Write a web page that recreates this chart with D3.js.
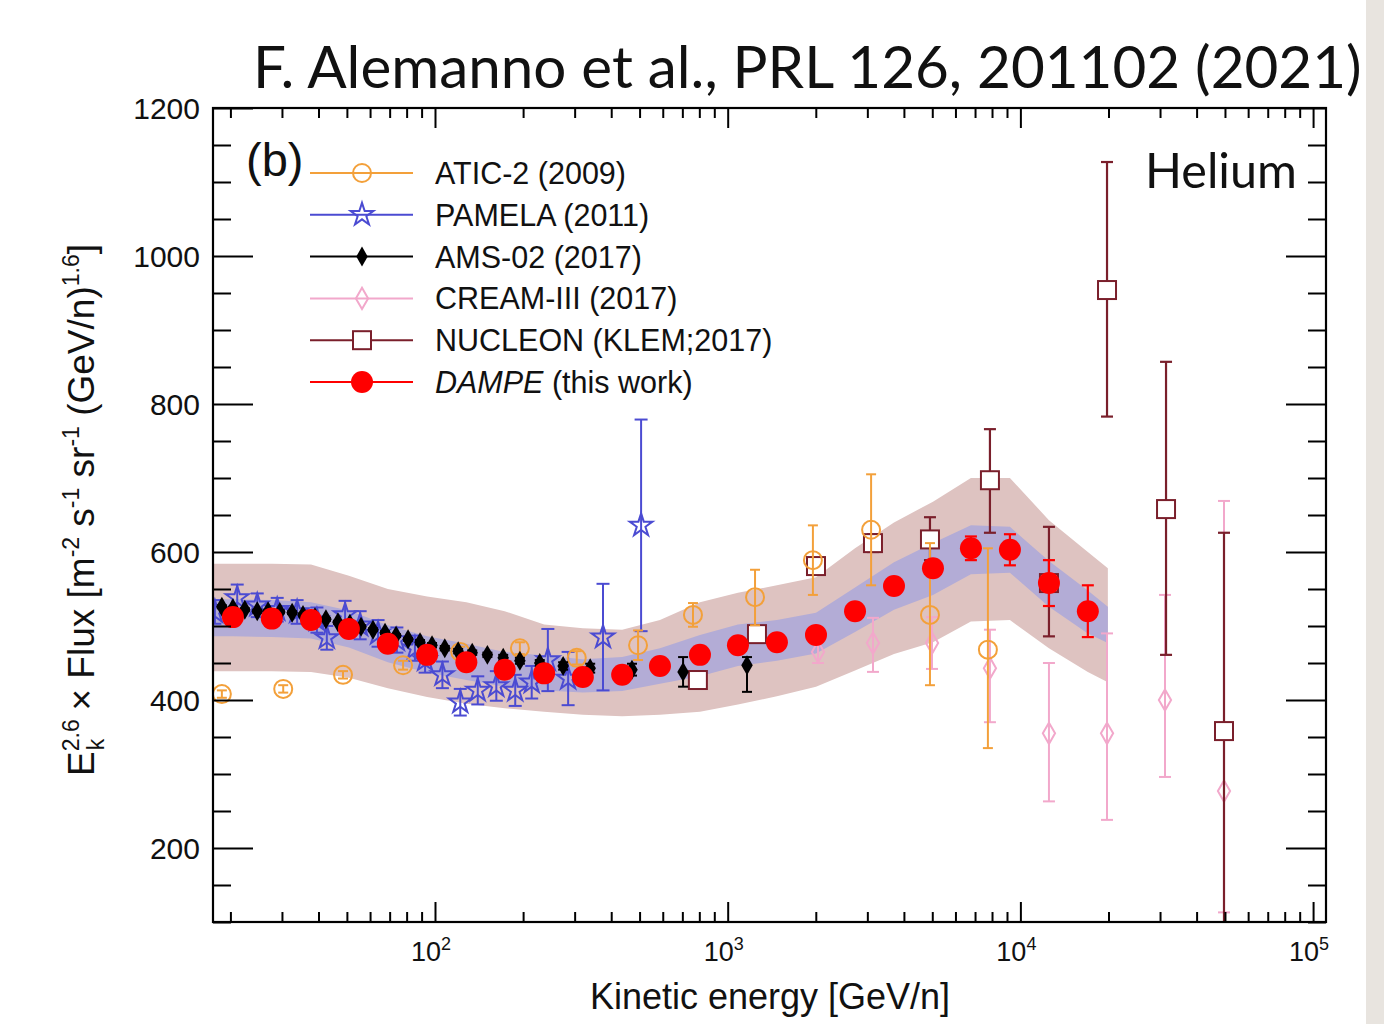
<!DOCTYPE html>
<html><head><meta charset="utf-8">
<script src="https://cdn.jsdelivr.net/npm/d3@7"></script>
<style>body{margin:0;background:#fff;} svg{display:block}</style>
</head><body>
<svg id="c" width="1384" height="1024"></svg>
<script>
// ---------------- DATA ----------------
const yTickLabels = [200, 400, 600, 800, 1000, 1200];
const xTickExps = [2, 3, 4, 5];

// DAMPE (this work)
const dampeE  = [20.4, 27.7, 37.7, 50.8, 69, 94, 128, 173, 236, 320, 436, 587, 804, 1084, 1473, 2003, 2723, 3700, 5027, 6776, 9210, 12520, 17000];
const dampeV  = [512, 510, 508, 496, 476, 461, 451, 441, 436, 431, 434, 446, 461, 474, 478, 488, 520, 554, 578, 605, 603, 558, 520];
const dampeErr= [3, 3, 3, 3, 3, 3, 3, 3, 3, 3, 3, 4, 4, 5, 5, 6, 7, 8, 10, 16, 21, 31, 35];

// DAMPE systematic bands
const bandE    = [17.44, 20.4, 27.7, 37.7, 50.8, 69, 94, 128, 173, 236, 320, 436, 587, 804, 1084, 1473, 2003, 2723, 3700, 5027, 6776, 9210, 12520, 17000, 19900];
const outerLo  = [439, 439, 439, 438, 430, 416, 404, 395, 389, 384, 380, 378, 380, 384, 394, 405, 418, 440, 462, 478, 506, 508, 470, 438, 424];
const outerHi  = [584, 584, 584, 583, 568, 550, 540, 532, 520, 502, 497, 495, 508, 532, 545, 555, 566, 605, 640, 668, 700, 700, 643, 600, 578];
const innerLo  = [486, 486, 485, 483, 471, 451, 437, 427, 418, 413, 410, 412, 422, 432, 446, 453, 463, 492, 522, 542, 570, 572, 526, 490, 477];
const innerHi  = [536, 536, 535, 532, 521, 501, 486, 476, 465, 460, 455, 458, 470, 488, 502, 508, 518, 552, 586, 612, 636, 634, 588, 548, 526];

// ATIC-2 (2009)
const aticE  = [18.7, 30.3, 48.5, 77.8, 122, 195, 305, 494, 761, 1240, 1955, 3090, 4910, 7745];
const aticV  = [408, 415, 434, 447, 465, 470, 457, 474, 515, 539, 589, 630, 515, 468];
const aticUp = [5, 5, 5, 6, 7, 8, 9, 20, 16, 37, 47, 75, 97, 137];
const aticDn = [5, 5, 5, 6, 7, 8, 9, 20, 16, 38, 47, 75, 95, 133];

// PAMELA (2011)
const pamE   = [17.7, 21.1, 24.7, 28.9, 33.8, 39.5, 42.7, 49.3, 55.5, 63.9, 74.1, 85.4, 92.5, 106, 122, 140, 162, 188, 214, 243, 285, 375, 506];
const pamV   = [519, 538, 528, 522, 519, 508, 484, 515, 501, 490, 481, 470, 454, 434, 397, 413, 419, 413, 424, 454, 429, 485, 636];
const pamErr = [16, 18, 16, 16, 16, 17, 16, 19, 19, 18, 17, 17, 17, 18, 18, 19, 20, 21, 22, 42, 36, 72, 143];

// AMS-02 (2017)
const amsE  = [18.7, 20.4, 22.4, 24.7, 26.9, 29.5, 32.5, 35.4, 38.9, 42.4, 46.6, 51.2, 55.9, 61.4, 67.5, 73.6, 80.9, 88.9, 97.7, 108, 120, 134, 151, 171, 195, 228, 274, 339, 471, 704, 1164];
const amsV  = [526, 524, 522, 520, 520, 519, 518, 515, 512, 509, 505, 503, 499, 495, 491, 487, 482, 478, 474, 470, 466, 464, 461, 457, 453, 450, 446, 443, 441, 438, 447];
const amsUp = [2, 2, 2, 2, 2, 2, 2, 2, 2, 2, 2, 2, 2, 2, 2, 2, 2, 3, 3, 3, 3, 3, 3, 4, 4, 4, 5, 6, 8, 20, 11];
const amsDn = [2, 2, 2, 2, 2, 2, 2, 2, 2, 2, 2, 2, 2, 2, 2, 2, 2, 3, 3, 3, 3, 3, 3, 4, 4, 4, 5, 6, 8, 20, 36];

// CREAM-III (2017)
const creamE  = [2035, 3136, 4990, 7870, 12520, 19770, 31190, 49620];
const creamV  = [465, 477, 477, 443, 355, 355, 400, 277];
const creamUp = [15, 34, 35, 52, 95, 135, 142, 392];
const creamDn = [15, 39, 35, 73, 92, 117, 104, 164];

// NUCLEON (KLEM; 2017)
const nucE  = [791, 1259, 2003, 3136, 4910, 7870, 12520, 19770, 31450, 49620];
const nucV  = [427, 489, 581, 612, 617, 697, 558, 954, 658, 358];
const nucUp = [8, 8, 10, 12, 30, 69, 76, 173, 199, 268];
const nucDn = [8, 8, 10, 12, 28, 71, 72, 171, 197, 300];

const legendNames = ["ATIC-2 (2009)", "PAMELA (2011)", "AMS-02 (2017)", "CREAM-III (2017)", "NUCLEON (KLEM;2017)", "DAMPE"];

// ---------------- STYLE ----------------
const C = {atic:"#f3a03a", pam:"#4b4bd2", ams:"#000000", cream:"#f2a8cb", nuc:"#7a1f2b", dampe:"#ff0000",
           outer:"#dec3c1", inner:"#b3acd6"};
const FONT = "'Liberation Sans', Arial, Helvetica, sans-serif";

const svg = d3.select("#c");
svg.append("rect").attr("width",1384).attr("height",1024).attr("fill","#fff");
svg.append("rect").attr("x",1366).attr("y",0).attr("width",18).attr("height",1024).attr("fill","#e8e4df");

const L=213, R=1326, T=108, B=922;
const x = d3.scaleLog().domain([17.44, 110700]).range([L, R]);
const y = d3.scaleLinear().domain([100, 1200]).range([B, T]);

svg.append("clipPath").attr("id","clip").append("rect").attr("x",L).attr("y",T).attr("width",R-L).attr("height",B-T);
const plot = svg.append("g").attr("clip-path","url(#clip)");

// bands
const bandData = bandE.map((e,i)=>({E:e, olo:outerLo[i], ohi:outerHi[i], ilo:innerLo[i], ihi:innerHi[i]}));
plot.append("path").datum(bandData).attr("fill",C.outer)
  .attr("d", d3.area().x(d=>x(d.E)).y0(d=>y(d.olo)).y1(d=>y(d.ohi)));
plot.append("path").datum(bandData).attr("fill",C.inner)
  .attr("d", d3.area().x(d=>x(d.E)).y0(d=>y(d.ilo)).y1(d=>y(d.ihi)));

// marker helpers
function marker(g, type, cx, cy){
  if(type==="atic") g.append("circle").attr("cx",cx).attr("cy",cy).attr("r",9).attr("fill","none").attr("stroke",C.atic).attr("stroke-width",2);
  else if(type==="pam") g.append("path").attr("d",d3.symbol(d3.symbolStar,160)()).attr("transform",`translate(${cx},${cy})`).attr("fill","none").attr("stroke",C.pam).attr("stroke-width",2);
  else if(type==="ams") g.append("path").attr("d",d3.symbol(d3.symbolDiamond,115)()).attr("transform",`translate(${cx},${cy})`).attr("fill",C.ams);
  else if(type==="cream") g.append("path").attr("d",d3.symbol(d3.symbolDiamond,130)()).attr("transform",`translate(${cx},${cy})`).attr("fill","none").attr("stroke",C.cream).attr("stroke-width",2);
  else if(type==="nuc") g.append("rect").attr("x",cx-9).attr("y",cy-9).attr("width",18).attr("height",18).attr("fill","#fff").attr("stroke",C.nuc).attr("stroke-width",2);
  else if(type==="dampe") g.append("circle").attr("cx",cx).attr("cy",cy).attr("r",11).attr("fill",C.dampe);
}
function errbar(g, color, cx, v, up, dn, cap, sw){
  const y1=y(v+up), y2=y(v-dn);
  g.append("line").attr("x1",cx).attr("x2",cx).attr("y1",y1).attr("y2",y2).attr("stroke",color).attr("stroke-width",sw);
  [y1,y2].forEach(yy=>g.append("line").attr("x1",cx-cap/2).attr("x2",cx+cap/2).attr("y1",yy).attr("y2",yy).attr("stroke",color).attr("stroke-width",sw));
}
function series(type, color, E, V, UP, DN, cap, sw){
  const g = plot.append("g");
  E.forEach((e,i)=>errbar(g,color,x(e),V[i],UP[i],DN[i],cap,sw));
  E.forEach((e,i)=>marker(g,type,x(e),y(V[i])));
}

series("cream", C.cream, creamE, creamV, creamUp, creamDn, 12, 2);
series("nuc", C.nuc, nucE, nucV, nucUp, nucDn, 12, 2.2);
series("pam", C.pam, pamE, pamV, pamErr, pamErr, 13, 2);
series("atic", C.atic, aticE, aticV, aticUp, aticDn, 10, 2);
series("ams", C.ams, amsE, amsV, amsUp, amsDn, 10, 2);
series("dampe", C.dampe, dampeE, dampeV, dampeErr, dampeErr, 12, 2.2);

// ---------------- AXES ----------------
const majorX = xTickExps.map(k=>Math.pow(10,k));
const minorX = [];
for(let d=1; d<=5; d++) for(let k=2;k<=9;k++){ const v=k*Math.pow(10,d); if(v>=x.domain()[0] && v<=x.domain()[1]) minorX.push(v); }
const majorY = d3.range(200, 1201, 200);
const minorY = d3.range(100, 1201, 50).filter(v=>v%200!==0);

function styleAxis(g){ g.select(".domain").remove(); g.selectAll("line").attr("stroke","#000").attr("stroke-width",2); g.selectAll("text").remove(); }
svg.append("g").attr("transform",`translate(0,${B})`).call(d3.axisBottom(x).tickValues(majorX).tickSize(-20)).call(styleAxis);
svg.append("g").attr("transform",`translate(0,${B})`).call(d3.axisBottom(x).tickValues(minorX).tickSize(-10)).call(styleAxis);
svg.append("g").attr("transform",`translate(0,${T})`).call(d3.axisTop(x).tickValues(majorX).tickSize(-20)).call(styleAxis);
svg.append("g").attr("transform",`translate(0,${T})`).call(d3.axisTop(x).tickValues(minorX).tickSize(-10)).call(styleAxis);
svg.append("g").attr("transform",`translate(${L},0)`).call(d3.axisLeft(y).tickValues(majorY).tickSize(-40)).call(styleAxis);
svg.append("g").attr("transform",`translate(${L},0)`).call(d3.axisLeft(y).tickValues(minorY).tickSize(-18)).call(styleAxis);
svg.append("g").attr("transform",`translate(${R},0)`).call(d3.axisRight(y).tickValues(majorY).tickSize(-40)).call(styleAxis);
svg.append("g").attr("transform",`translate(${R},0)`).call(d3.axisRight(y).tickValues(minorY).tickSize(-18)).call(styleAxis);

svg.append("rect").attr("x",L).attr("y",T).attr("width",R-L).attr("height",B-T).attr("fill","none").attr("stroke","#000").attr("stroke-width",2.2);

// y tick labels
svg.append("g").selectAll("text").data(yTickLabels).join("text")
  .attr("x",200).attr("y",d=>y(d)+11).attr("text-anchor","end")
  .attr("font-family",FONT).attr("font-size",30).attr("fill","#111").text(d=>d);

// x tick labels
xTickExps.forEach(k=>{
  const t = svg.append("text").attr("x",x(Math.pow(10,k))-4).attr("y",961).attr("text-anchor","middle")
    .attr("font-family",FONT).attr("font-size",27).attr("fill","#111");
  t.append("tspan").text("10");
  t.append("tspan").attr("dy",-11).attr("font-size",18).text(k);
});

// axis titles
svg.append("text").attr("x",770).attr("y",1009).attr("text-anchor","middle")
  .attr("font-family",FONT).attr("font-size",36).attr("fill","#111").text("Kinetic energy [GeV/n]");

const yl = svg.append("text").attr("transform","translate(94,510) rotate(-90)").attr("text-anchor","middle")
  .attr("font-family",FONT).attr("font-size",37).attr("fill","#111");
// [text, baseline offset, font-size, dx]
const parts = [["E",0],["2.6",-15,23],["k",10,23,-31],[" × Flux [m",0,null,18],["-2",-15,23],[" s",0],["-1",-15,23],[" sr",0],["-1",-15,23],[" (GeV/n)",0],["1.6",-15,23],["]",0]];
let cur=0;
parts.forEach(p=>{
  const ts = yl.append("tspan").text(p[0]).attr("dy",p[1]-cur);
  if(p[2]) ts.attr("font-size",p[2]);
  if(p[3]) ts.attr("dx",p[3]);
  cur=p[1];
});

// title
function fitText(sel, target){
  const w = sel.node().getComputedTextLength();
  const fs = parseFloat(sel.attr("font-size"));
  sel.attr("font-size", fs*target/w);
}
const title = svg.append("text").attr("x",253).attr("y",88).attr("font-family","Lato, 'Open Sans', sans-serif")
  .attr("font-size",50).attr("fill","#111").text("F. Alemanno et al., PRL 126, 201102 (2021)");
fitText(title, 1109);

svg.append("text").attr("x",246).attr("y",176).attr("font-family",FONT).attr("font-size",47).attr("fill","#111").text("(b)");
const he = svg.append("text").attr("x",1145).attr("y",188).attr("font-family","Lato, 'Open Sans', sans-serif")
  .attr("font-size",40).attr("fill","#111").text("Helium");
fitText(he, 152);

// legend
const legTypes = ["atic","pam","ams","cream","nuc","dampe"];
const legColors = [C.atic, C.pam, C.ams, C.cream, C.nuc, C.dampe];
const lg = svg.append("g");
legTypes.forEach((t,i)=>{
  const cy = 173 + i*41.8;
  lg.append("line").attr("x1",310).attr("x2",413).attr("y1",cy).attr("y2",cy).attr("stroke",legColors[i]).attr("stroke-width",2);
  marker(lg, t, 362, cy);
  const tx = lg.append("text").attr("x",435).attr("y",cy+11).attr("font-family",FONT).attr("font-size",30.5).attr("fill","#111");
  if(t==="dampe"){
    tx.append("tspan").attr("font-style","italic").text("DAMPE");
    tx.append("tspan").text(" (this work)");
  } else tx.text(legendNames[i]);
});
</script>
</body></html>
